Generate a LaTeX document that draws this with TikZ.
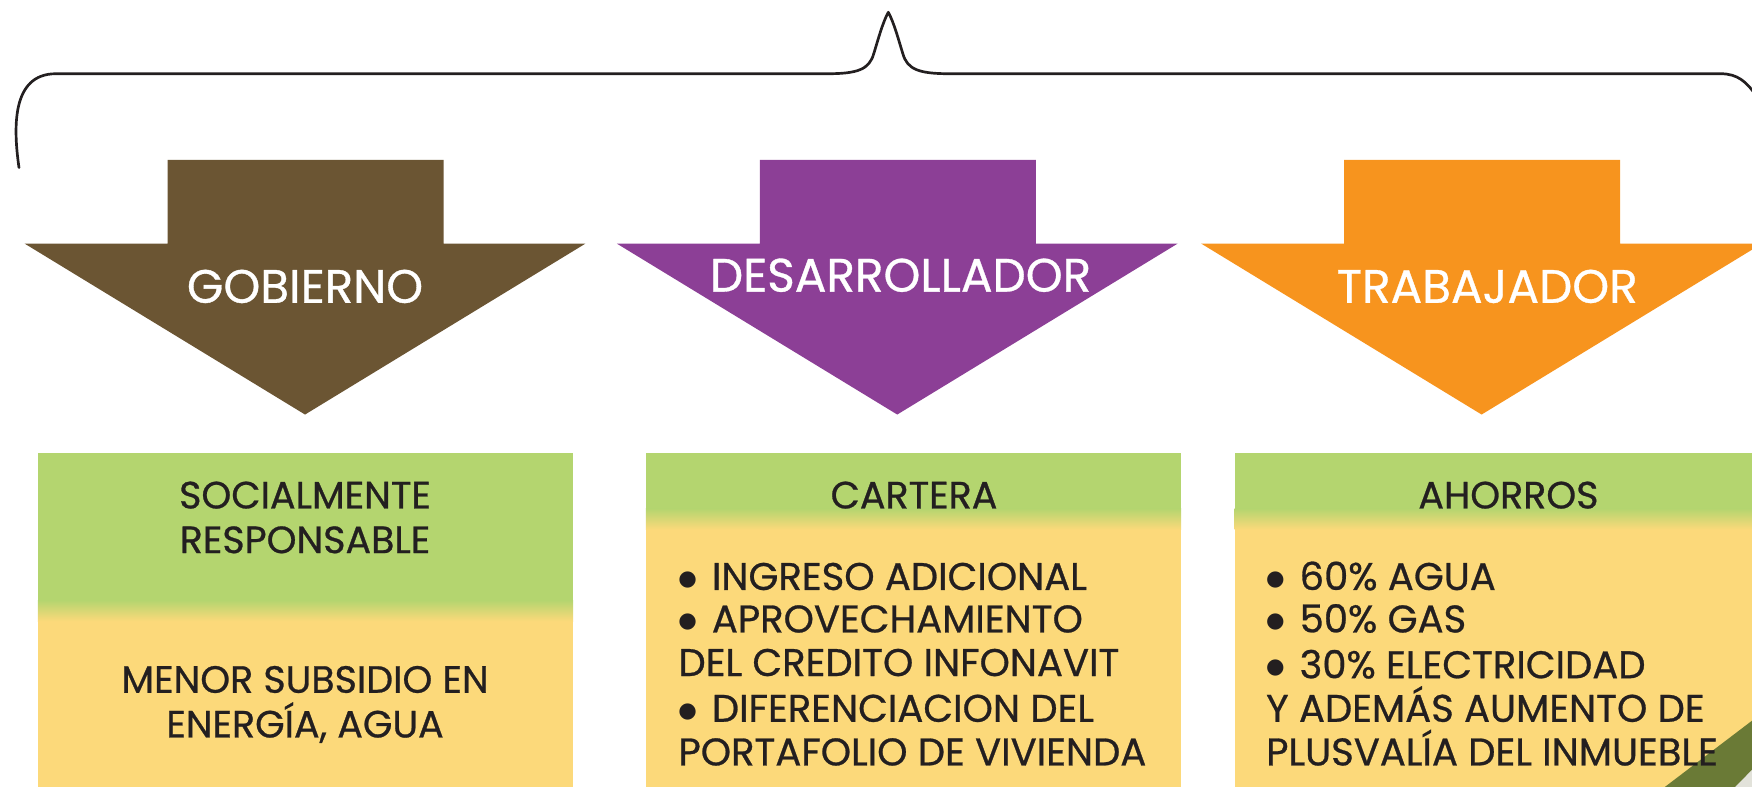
\documentclass[tikz,border=0pt]{standalone}
\usepackage{fontspec}
\setmainfont{Poppins}
\newfontfamily\medf[FakeBold=0.7]{Poppins}
\newfontfamily\djv{DejaVu Sans}
\definecolor{brownA}{HTML}{6B5533}
\definecolor{purpleA}{HTML}{8C3F96}
\definecolor{orangeA}{HTML}{F7941E}
\definecolor{greenA}{HTML}{B4D56F}
\definecolor{yellowA}{HTML}{FCD97A}
\definecolor{oliveA}{HTML}{6A7A36}
\definecolor{greyA}{HTML}{E2E2DA}
\definecolor{txt}{HTML}{231F20}
\newcommand\bulA{\raisebox{0.12em}{{\djv\fontsize{19}{19}\selectfont ●}}\hspace{0.12em}}
\begin{document}
\begin{tikzpicture}[x=1pt,y=-1pt,
  title/.style={text=white, font=\fontsize{42}{42}\medf, anchor=base, inner sep=0pt},
  head/.style={text=txt, font=\fontsize{34}{34}\medf, anchor=base, inner sep=0pt},
  body/.style={text=txt, font=\fontsize{34.5}{34}\medf, anchor=base west, inner sep=0pt},
  bracelike/.style={draw=txt, line width=2.4pt, line cap=round, line join=round},
]
\useasboundingbox (0,0) rectangle (1568,704.3);
\clip (0,0) rectangle (1568,704.3);

% brace
\coordinate (bl) at (17,150);
\coordinate (bt) at (795,11);
\coordinate (br) at (1572,86);
\draw[bracelike] (bl) .. controls (12,115) and (10,66) .. (50,66) -- (740,66)
  .. controls (768,66) and (778,62) .. (782,48) .. controls (786,35) and (790,20) .. (bt)
  .. controls (800,20) and (804,35) .. (808,48) .. controls (812,62) and (822,66) .. (850,66)
  -- (1540,66) .. controls (1555,66) and (1563,73) .. (br);

% arrows
\fill[brownA] (150,143) -- (397,143) -- (397,218) -- (524,218) -- (273,371) -- (22,218) -- (150,218) -- cycle;
\fill[purpleA] (680,143) -- (927,143) -- (927,218) -- (1054,218) -- (803,371) -- (552,218) -- (680,218) -- cycle;
\fill[orangeA] (1203,143) -- (1450,143) -- (1450,218) -- (1577,218) -- (1326,371) -- (1075,218) -- (1203,218) -- cycle;
\node[title] (t1) at (273,271) {GOBIERNO};
\node[title] (t2) at (806,261) {DESARROLLADOR};
\node[title] (t3) at (1331,271) {TRABAJADOR};

% boxes
\fill[yellowA] (34,405) rectangle (513,704.3);
\fill[greenA] (34,405) rectangle (513,538);
\shade[top color=greenA, bottom color=yellowA] (34,537) rectangle (513,556);
\fill[yellowA] (578,405) rectangle (1057,704.3);
\fill[greenA] (578,405) rectangle (1057,456);
\shade[top color=greenA, bottom color=yellowA] (578,455) rectangle (1057,474);
\fill[yellowA] (1105,405) rectangle (1570,704.3);
\fill[greenA] (1105,405) rectangle (1570,456);
\shade[top color=greenA, bottom color=yellowA] (1105,455) rectangle (1570,474);

% corner
\fill[oliveA] (1568,645) -- (1568,704.3) -- (1490,704.3) -- cycle;
\fill[greyA] (1568,689) -- (1568,704.3) -- (1553,704.3) -- cycle;

% box 1 text
\node[head] (h1a) at (273,455) {SOCIALMENTE};
\node[head] (h1b) at (273,495) {RESPONSABLE};
\node[head] (c1a) at (273,620) {MENOR SUBSIDIO EN};
\node[head] (c1b) at (273,660) {ENERGÍA, AGUA};

% box 2 text
\node[head] (h2) at (818,455) {CARTERA};
\node[body] (c2a) at (607,528) {\bulA{} INGRESO ADICIONAL};
\node[body] (c2b) at (607,566) {\bulA{} APROVECHAMIENTO};
\node[body] (c2c) at (607,605) {DEL CREDITO INFONAVIT};
\node[body] (c2d) at (607,646) {\bulA{} DIFERENCIACION DEL};
\node[body] (c2e) at (607,685) {PORTAFOLIO DE VIVIENDA};

% box 3 text
\node[head] (h3) at (1350,455) {AHORROS};
\node[body] (c3a) at (1133,528) {\bulA{} 60\% AGUA};
\node[body] (c3b) at (1133,566) {\bulA{} 50\% GAS};
\node[body] (c3c) at (1133,607) {\bulA{} 30\% ELECTRICIDAD};
\node[body] (c3d) at (1133,646) {Y ADEMÁS AUMENTO DE};
\node[body] (c3e) at (1133,685) {PLUSVALÍA DEL INMUEBLE};
\end{tikzpicture}
\end{document}
